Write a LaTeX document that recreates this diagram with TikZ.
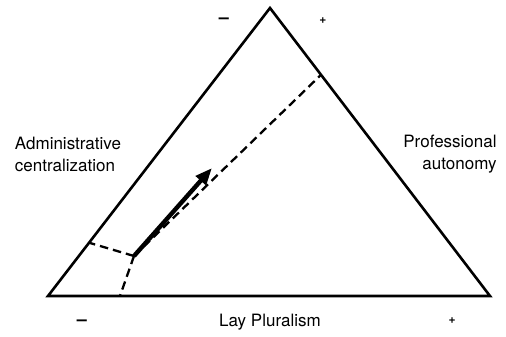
\documentclass[tikz,border=0pt]{standalone}
\usepackage{fontspec}
\setmainfont{TeX Gyre Heros}
\usetikzlibrary{arrows.meta,positioning,calc}

\begin{document}
\begin{tikzpicture}[x=1pt, y=-1pt,
  side/.style={line width=2.6pt, line join=miter},
  split/.style={dashed, dash pattern=on 8.5pt off 5pt, line width=2.3pt},
  move/.style={-{Triangle[length=17pt, width=13pt]}, line width=4.4pt},
  pole/.style={font=\fontsize{17}{22}\selectfont, inner sep=0pt},
  sign/.style={font=\fontsize{18}{18}\selectfont\bfseries, inner sep=0pt},
  small/.style={font=\fontsize{12}{12}\selectfont\bfseries, inner sep=0pt}
]
  \useasboundingbox (0,0) rectangle (506,337);
  % Corners of the triangle
  \coordinate (apex) at (270,8);
  \coordinate (bl) at (48,296);
  \coordinate (br) at (490,296);
  \draw[side] (bl) -- (apex) -- (br) -- cycle;
  % Dashed dividing lines from the inner point
  \coordinate (mid) at (134,256);
  \coordinate (rs) at ($(apex)!0.232!(br)$);
  \coordinate (ls) at ($(bl)!0.185!(apex)$);
  \coordinate (bs) at (120,296);
  \draw[split] (mid) -- (rs);
  \draw[split] (mid) -- (ls);
  \draw[split] (mid) -- (bs);
  % Direction of change
  \coordinate (tip) at (212,168);
  \draw[move] (mid) -- (tip);
  % Poles
  \node[pole, align=left] (admin) at (68,154) {Administrative\\centralization};
  \node[pole, align=right] (prof) at (450,154) {Professional\\autonomy};
  \node[pole] (lay) at (270,322) {Lay Pluralism};
  % Signs
  \node[sign] (topminus) at (224,21) {--};
  \node[small] (topplus) at (323,21) {+};
  \node[sign] (lowminus) at (82,323) {--};
  \node[small] (lowplus) at (452,321) {+};
\end{tikzpicture}
\end{document}
